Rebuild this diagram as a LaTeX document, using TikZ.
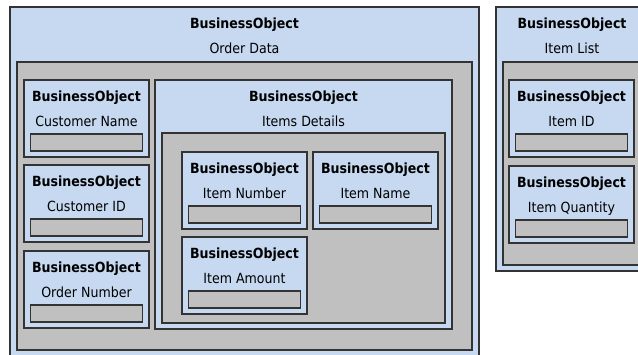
\documentclass[tikz,border=0pt]{standalone}
\usepackage{fontspec}
\setmainfont[FakeStretch=0.9]{DejaVu Sans}
\usetikzlibrary{calc}
\definecolor{boblue}{HTML}{C6D9F0}
\definecolor{bogray}{HTML}{C0C0C0}
\definecolor{boline}{HTML}{333333}
\tikzset{
  bobox/.style={draw=boline, line width=1.4pt, fill=boblue, anchor=north west,
    inner sep=0pt, outer sep=0pt},
  bopanel/.style={draw=boline, line width=1.4pt, fill=bogray, anchor=north west,
    inner sep=0pt, outer sep=0pt},
  bofield/.style={draw=boline, line width=1.2pt, fill=bogray, anchor=north,
    inner sep=0pt, outer sep=0pt, minimum width=112pt, minimum height=17pt},
  botitle/.style={anchor=base, inner sep=0pt, font=\bfseries\fontsize{14}{16}\selectfont},
  boname/.style={anchor=base, inner sep=0pt, font=\fontsize{14}{16}\selectfont},
}
% a leaf business object: box, title, caption and an empty value field
\newcommand\boleaf[4]{%
  \node[bobox, minimum width=125pt, minimum height=77pt] (#1) at (#2,#3) {};
  \node[botitle] (#1-t) at ([yshift=-21.5pt]#1.north) {BusinessObject};
  \node[boname] (#1-n) at ([yshift=-46pt]#1.north) {#4};
  \node[bofield] (#1-f) at ([yshift=-54pt]#1.north) {};
}
% a container business object: box with title and caption, then a grey panel
\newcommand\bocontainer[9]{%
  \node[bobox, minimum width=#4pt, minimum height=#5pt] (#1) at (#2,#3) {};
  \node[botitle] (#1-t) at ([yshift=-21.5pt]#1.north) {BusinessObject};
  \node[boname] (#1-n) at ([yshift=-46pt]#1.north) {#6};
  \node[bopanel, minimum width=#7pt, minimum height=#8pt] (#1-p) at ([shift={(7pt,-#9pt)}]#1.north west) {};
}
\begin{document}
\begin{tikzpicture}[x=1pt, y=-1pt]
  \useasboundingbox (0,0) rectangle (638,354);
  \clip (0,0) rectangle (638,354);
  \fill[white] (0,0) rectangle (638,354);

  % order data
  \bocontainer{od}{10}{7}{469}{375}{Order Data}{455}{288}{55}
  \boleaf{cname}{24}{80}{Customer Name}
  \boleaf{cid}{24}{165}{Customer ID}
  \boleaf{onum}{24}{251}{Order Number}

  % items details
  \bocontainer{items}{155}{80}{297}{249}{Items Details}{283}{190}{53}
  \boleaf{inum}{182}{152}{Item Number}
  \boleaf{iname}{313}{152}{Item Name}
  \boleaf{iamt}{182}{237}{Item Amount}

  % item list
  \bocontainer{ilist}{496}{7}{152}{264}{Item List}{138}{203}{55}
  \boleaf{iid}{509}{80}{Item ID}
  \boleaf{iqty}{509}{166}{Item Quantity}
\end{tikzpicture}
\end{document}
